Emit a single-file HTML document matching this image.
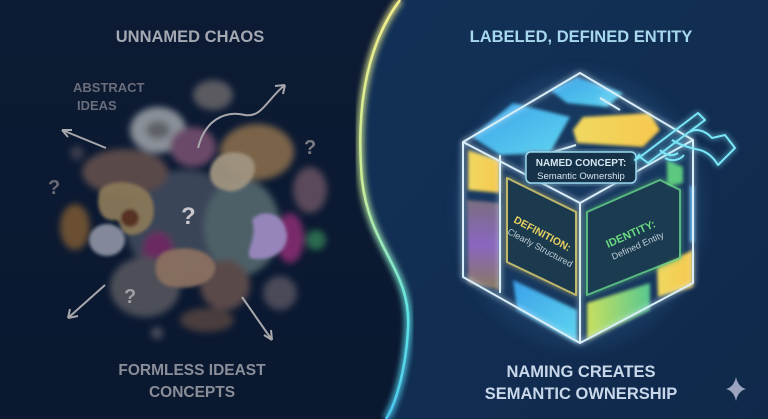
<!DOCTYPE html>
<html><head><meta charset="utf-8"><style>
html,body{margin:0;padding:0;width:768px;height:419px;overflow:hidden;background:#0b1730}
svg{display:block}
text{font-family:"Liberation Sans",sans-serif;font-weight:bold}
</style></head><body>
<svg width="768" height="419" viewBox="0 0 768 419" xmlns="http://www.w3.org/2000/svg">
<defs>
<linearGradient id="bgL" x1="0" y1="0" x2="0" y2="1"><stop offset="0" stop-color="#0c1a33"/><stop offset="1" stop-color="#0a1830"/></linearGradient>
<linearGradient id="bgR" x1="0" y1="0" x2="1" y2="1"><stop offset="0" stop-color="#123158"/><stop offset="1" stop-color="#10294b"/></linearGradient>
<linearGradient id="div" x1="0" y1="0" x2="0" y2="1"><stop offset="0" stop-color="#f4ef8a"/><stop offset="0.45" stop-color="#c9ee9a"/><stop offset="0.75" stop-color="#5ee4e6"/><stop offset="1" stop-color="#4cc8f0"/></linearGradient>
<filter id="b6"><feGaussianBlur stdDeviation="6"/></filter>
<filter id="b4"><feGaussianBlur stdDeviation="3.5"/></filter>
<filter id="b3"><feGaussianBlur stdDeviation="3"/></filter>
<filter id="b2"><feGaussianBlur stdDeviation="1.5"/></filter>
<filter id="glow"><feGaussianBlur stdDeviation="3" result="g"/><feMerge><feMergeNode in="g"/><feMergeNode in="SourceGraphic"/></feMerge></filter>
<linearGradient id="tb" x1="0" y1="0" x2="1" y2="1"><stop offset="0" stop-color="#3aa0e8"/><stop offset="1" stop-color="#5fd6f0"/></linearGradient>
<linearGradient id="ty" x1="0" y1="0" x2="1" y2="0"><stop offset="0" stop-color="#f0d860"/><stop offset="1" stop-color="#f6c84e"/></linearGradient>
<linearGradient id="tp" x1="0" y1="0" x2="0" y2="1"><stop offset="0" stop-color="#7a6e80"/><stop offset="0.5" stop-color="#8a66c0"/><stop offset="1" stop-color="#8a7a60"/></linearGradient>
<linearGradient id="tg" x1="0" y1="0" x2="1" y2="0"><stop offset="0" stop-color="#c8e060"/><stop offset="1" stop-color="#58c890"/></linearGradient>
</defs>
<rect width="768" height="419" fill="url(#bgL)"/>
<path d="M400,0 C370,40 355,100 362,180 C370,250 412,270 408,330 C405,380 392,410 386,419 L768,419 L768,0 Z" fill="url(#bgR)"/>
<path d="M400,0 C370,40 355,100 362,180 C370,250 412,270 408,330 C405,380 392,410 386,419" fill="none" stroke="url(#div)" stroke-width="7" filter="url(#b3)" opacity="0.8"/>
<path d="M400,0 C370,40 355,100 362,180 C370,250 412,270 408,330 C405,380 392,410 386,419" fill="none" stroke="url(#div)" stroke-width="2.5"/>

<!-- chaos blobs -->
<g filter="url(#b4)">
<ellipse cx="185" cy="225" rx="60" ry="55" fill="#3a4458"/>
<ellipse cx="213" cy="95" rx="20" ry="15" fill="#5a5a60"/>
<ellipse cx="158" cy="130" rx="28" ry="23" fill="#8a9098"/>
<ellipse cx="158" cy="130" rx="12" ry="9" fill="#5e6068"/>
<ellipse cx="193" cy="147" rx="23" ry="20" fill="#6a4a68"/>
<ellipse cx="257" cy="152" rx="37" ry="28" fill="#7a6448"/>
<ellipse cx="310" cy="190" rx="17" ry="23" fill="#5a4a5a"/>
<ellipse cx="125" cy="172" rx="43" ry="23" fill="#5a4a48"/>
<ellipse cx="77" cy="153" rx="7" ry="7" fill="#3a3e4e"/>
<ellipse cx="242" cy="227" rx="38" ry="48" fill="#4e6068"/>
<ellipse cx="290" cy="238" rx="14" ry="25" fill="#7a2a6a"/>
<ellipse cx="316" cy="240" rx="10" ry="10" fill="#2a6a50"/>
<ellipse cx="75" cy="227" rx="15" ry="23" fill="#6a5030"/>
<ellipse cx="158" cy="250" rx="15" ry="18" fill="#6a2a60"/>
<ellipse cx="145" cy="287" rx="35" ry="30" fill="#4e5058"/>
<ellipse cx="225" cy="285" rx="25" ry="25" fill="#5a4a4a"/>
<ellipse cx="280" cy="293" rx="17" ry="17" fill="#4a4a58"/>
<ellipse cx="207" cy="320" rx="27" ry="12" fill="#4a3e3c"/>
<ellipse cx="157" cy="333" rx="6" ry="6" fill="#4a4e5a"/>
</g>
<g filter="url(#b2)" opacity="0.95">
<path d="M100,190 C110,178 140,180 150,195 C160,215 150,235 130,235 C118,232 122,220 115,220 C100,222 95,205 100,190Z" fill="#8a7858"/>
<ellipse cx="130" cy="218" rx="9" ry="9" fill="#5a3020"/>
<path d="M215,160 C225,148 255,150 255,168 C254,185 235,195 225,190 C210,188 205,172 215,160Z" fill="#a09480"/>
<path d="M252,220 C262,208 285,212 287,235 C288,255 265,262 250,258 C245,250 258,238 252,220Z" fill="#9a88c0"/>
<path d="M160,255 C170,245 210,245 215,265 C218,285 185,292 165,285 C155,280 152,265 160,255Z" fill="#8a7060"/>
<ellipse cx="107" cy="240" rx="18" ry="16" fill="#8a90a0"/>
</g>
<g fill="none" stroke="#a8a8ac" stroke-width="2">
<path d="M106,148 L62,130"/><path d="M62,130 l10,0 M62,130 l6,7"/>
<path d="M198,148 C205,120 225,110 245,115 C262,118 268,98 285,85"/><path d="M285,85 l-10,1 M285,85 l-2,9"/>
<path d="M105,285 L68,318"/><path d="M68,318 l10,-2 M68,318 l2,-9"/>
<path d="M242,297 L272,340"/><path d="M272,340 l-1,-10 M272,340 l-8,-5"/>
</g>
<g fill="#9a9a9e" font-size="20">
<text x="181" y="224" fill="#c8c8cc" font-size="24">?</text>
<text x="304" y="154" fill="#7a7a80">?</text>
<text x="48" y="194" fill="#6a6a74">?</text>
<text x="124" y="303" fill="#a0a0a4">?</text>
</g>
<text x="73" y="92" font-size="13" fill="#6a6e7c">ABSTRACT</text>
<text x="77" y="110" font-size="13" fill="#6a6e7c">IDEAS</text>
<text x="190" y="42" font-size="16.5" fill="#a4a8b2" text-anchor="middle">UNNAMED CHAOS</text>
<text x="192" y="375" font-size="15.5" fill="#8a8e98" text-anchor="middle">FORMLESS IDEAST</text>
<text x="192" y="397" font-size="15.5" fill="#8a8e98" text-anchor="middle">CONCEPTS</text>

<!-- right -->
<text x="581" y="42" font-size="16.5" fill="#a8d8ee" text-anchor="middle">LABELED, DEFINED ENTITY</text>
<text x="581" y="377" font-size="16.5" fill="#c8d8ea" text-anchor="middle">NAMING CREATES</text>
<text x="581" y="399" font-size="16.5" fill="#c8d8ea" text-anchor="middle">SEMANTIC OWNERSHIP</text>
<path d="M736,377 Q738,387 746,389 Q738,391 736,401 Q734,391 726,389 Q734,387 736,377Z" fill="#9aa6c0"/>

<!-- cube glow -->
<ellipse cx="580" cy="210" rx="125" ry="140" fill="#2a5a8a" opacity="0.25" filter="url(#b6)"/>
<g filter="url(#b2)">
<polygon points="472,137 513,103 570,117 550,153 500,155" fill="url(#tb)"/>
<polygon points="550,90 577,77 623,93 607,107 567,103" fill="url(#tb)"/>
<polygon points="573,130 583,117 650,113 660,130 643,147 577,143" fill="url(#ty)"/>
<polygon points="468,150 500,160 500,193 468,190" fill="url(#ty)"/>
<polygon points="467,200 500,203 500,290 468,283" fill="url(#tp)"/>
<polygon points="513,280 577,310 577,343 517,310" fill="url(#tb)"/>
<polygon points="587,303 650,283 650,310 587,340" fill="url(#tg)"/>
<polygon points="657,267 693,250 693,287 658,297" fill="url(#ty)"/>
<polygon points="667,160 683,167 683,183 667,187" fill="#5cc880"/>
<rect x="690" y="186" width="4" height="56" fill="#4aa8e8"/>
</g>
<g fill="none" stroke="#d8eef8" stroke-width="2" filter="url(#glow)" stroke-linejoin="round">
<path d="M580,73 L693,140 L693,283 L580,343 L463,277 L463,142 Z"/>
<path d="M463,142 L580,203 L693,140 M580,203 L580,343"/>
<path d="M500,155 L500,293 M550,153 L576,145 M600,98 L620,110"/>
</g>
<!-- faces -->
<polygon points="507,178 576,212 576,295 507,262" fill="#1a3a4a" opacity="0.8" stroke="#e8d870" stroke-width="2" filter="url(#glow)" stroke-linejoin="round"/>
<polygon points="587,212 660,180 680,190 680,258 587,295" fill="#1a3e4e" opacity="0.8" stroke="#6ad88a" stroke-width="2" filter="url(#glow)" stroke-linejoin="round"/>
<rect x="526" y="152" width="110" height="31" rx="5" fill="#14304a" stroke="#9ad8f0" stroke-width="1.5" filter="url(#glow)"/>
<text x="581" y="166" font-size="10" fill="#d6e6f0" text-anchor="middle">NAMED CONCEPT:</text>
<text x="581" y="179" font-size="9.5" fill="#d6e6f0" text-anchor="middle" style="font-weight:normal">Semantic Ownership</text>
<g transform="translate(513,222) rotate(28)">
<text font-size="10.5" fill="#e8d060">DEFINITION:</text>
<text y="13" font-size="9" fill="#c0cfd8" style="font-weight:normal">Clearly Structured</text>
</g>
<g transform="translate(608,248) rotate(-24)">
<text font-size="11" fill="#6ad880">IDENTITY:</text>
<text y="13" font-size="9" fill="#c0cfd8" style="font-weight:normal">Defined Entity</text>
</g>
<!-- hand with pen -->
<g fill="none" stroke="#7ae6f8" stroke-width="2" filter="url(#glow)" stroke-linejoin="round">
<path d="M640,157 L698,113 L705,120 L648,163 Z"/>
<path d="M640,157 L635,160 L640,154"/>
<path d="M672,140 C680,145 690,148 700,150 C710,153 715,160 718,165 L735,148 L725,135 L712,138 C705,130 695,128 690,132"/>
<path d="M660,150 C665,155 672,157 678,153 M665,158 C672,162 680,160 684,155"/>
</g>
</svg>
</body></html>
